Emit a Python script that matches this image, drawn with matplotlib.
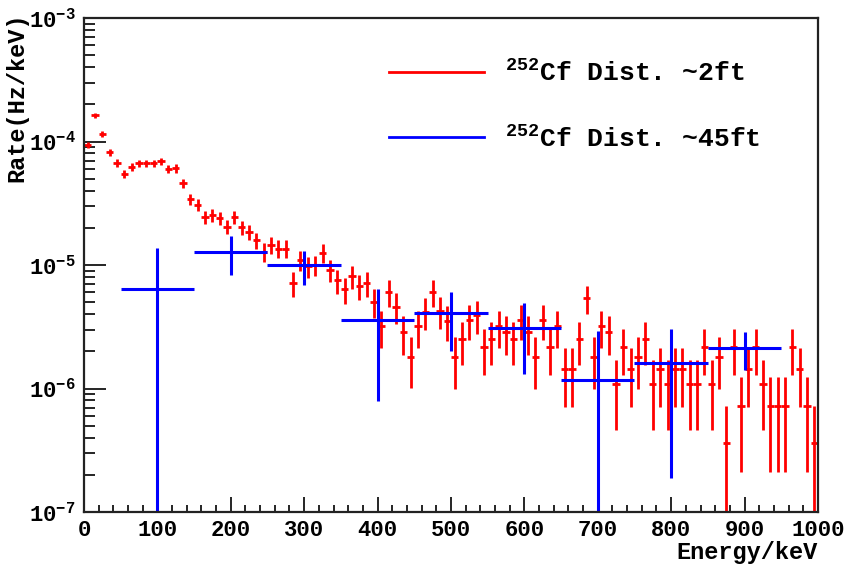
import matplotlib
matplotlib.use("Agg")
import matplotlib.pyplot as plt
from matplotlib.lines import Line2D
from matplotlib.ticker import FixedLocator, LogLocator, MultipleLocator, NullFormatter

plt.rcParams['font.family'] = ['Liberation Mono', 'DejaVu Sans']
plt.rcParams['font.weight'] = 'bold'
plt.rcParams['mathtext.fontset'] = 'custom'
plt.rcParams['mathtext.rm'] = 'Liberation Mono:bold'
plt.rcParams['mathtext.it'] = 'Liberation Mono:bold'
plt.rcParams['mathtext.bf'] = 'Liberation Mono:bold'

# ~2ft: 10 keV bins
e_near = [5 + 10 * i for i in range(100)]
rate_near = [9.4e-5, 1.64e-4, 1.16e-4, 8.2e-5, 6.7e-5, 5.46e-5, 6.2e-5, 6.65e-5, 6.65e-5, 6.65e-5,
             6.9e-5, 6.0e-5, 6.07e-5, 4.58e-5, 3.42e-5, 3.06e-5, 2.46e-5, 2.54e-5, 2.39e-5, 2.04e-5,
             2.43e-5, 2.02e-5, 1.86e-5, 1.59e-5, 1.28e-5, 1.45e-5, 1.36e-5, 1.36e-5, 7.1e-6, 1.1e-5,
             9.8e-6, 1.0e-5, 1.26e-5, 9.1e-6, 7.5e-6, 6.36e-6, 8.15e-6, 6.76e-6, 7.1e-6, 5.05e-6,
             3.2e-6, 6.08e-6, 4.6e-6, 2.88e-6, 1.81e-6, 3.2e-6, 4.19e-6, 6.08e-6, 4.26e-6, 3.54e-6,
             1.79e-6, 2.5e-6, 3.59e-6, 3.94e-6, 2.16e-6, 2.5e-6, 3.2e-6, 2.88e-6, 2.5e-6, 3.59e-6,
             2.88e-6, 1.79e-6, 3.59e-6, 2.16e-6, 3.2e-6, 1.43e-6, 1.43e-6, 2.5e-6, 5.37e-6, 1.79e-6,
             3.2e-6, 2.88e-6, 1.09e-6, 2.16e-6, 1.43e-6, 1.79e-6, 2.5e-6, 1.09e-6, 1.43e-6, 1.09e-6,
             1.43e-6, 1.43e-6, 1.09e-6, 1.09e-6, 2.16e-6, 1.09e-6, 1.79e-6, 3.6e-7, 2.16e-6, 7.2e-7,
             1.43e-6, 2.16e-6, 1.09e-6, 7.2e-7, 7.2e-7, 7.2e-7, 2.16e-6, 1.43e-6, 7.2e-7, 3.6e-7]
err_near = [5.82e-6, 7.68e-6, 6.46e-6, 5.43e-6, 4.91e-6, 4.43e-6, 4.72e-6, 4.89e-6, 4.89e-6, 4.89e-6,
            4.98e-6, 4.65e-6, 4.67e-6, 4.06e-6, 3.51e-6, 3.32e-6, 2.98e-6, 3.02e-6, 2.93e-6, 2.71e-6,
            2.96e-6, 2.70e-6, 2.59e-6, 2.39e-6, 2.15e-6, 2.28e-6, 2.21e-6, 2.21e-6, 1.60e-6, 1.99e-6,
            1.88e-6, 1.90e-6, 2.13e-6, 1.81e-6, 1.64e-6, 1.51e-6, 1.71e-6, 1.56e-6, 1.60e-6, 1.35e-6,
            1.07e-6, 1.48e-6, 1.29e-6, 1.02e-6, 8.07e-7, 1.07e-6, 1.23e-6, 1.48e-6, 1.24e-6, 1.13e-6,
            8.03e-7, 9.49e-7, 1.14e-6, 1.19e-6, 8.82e-7, 9.49e-7, 1.07e-6, 1.02e-6, 9.49e-7, 1.14e-6,
            1.02e-6, 8.03e-7, 1.14e-6, 8.82e-7, 1.07e-6, 7.17e-7, 7.17e-7, 9.49e-7, 1.39e-6, 8.03e-7,
            1.07e-6, 1.02e-6, 6.26e-7, 8.82e-7, 7.17e-7, 8.03e-7, 9.49e-7, 6.26e-7, 7.17e-7, 6.26e-7,
            7.17e-7, 7.17e-7, 6.26e-7, 6.26e-7, 8.82e-7, 6.26e-7, 8.03e-7, 3.6e-7, 8.82e-7, 5.09e-7,
            7.17e-7, 8.82e-7, 6.26e-7, 5.09e-7, 5.09e-7, 5.09e-7, 8.82e-7, 7.17e-7, 5.09e-7, 3.6e-7]

# ~45ft: 100 keV bins
e_far = [100, 200, 300, 400, 500, 600, 700, 800, 900]
rate_far = [6.36e-6, 1.28e-5, 1.0e-5, 3.59e-6, 4.06e-6, 3.1e-6, 1.17e-6, 1.62e-6, 2.14e-6]
err_far = [7.3e-6, 4.5e-6, 3.1e-6, 2.8e-6, 2.03e-6, 1.8e-6, 1.75e-6, 1.43e-6, 0.73e-6]

labels = [r'$^{252}$Cf Dist. ~2ft', r'$^{252}$Cf Dist. ~45ft']


def lower(v, e):
    # keep the lower end positive on the log axis
    return [min(ee, vv * 0.9999) for vv, ee in zip(v, e)]


fig = plt.figure(figsize=(8.48, 5.66), dpi=100)
ax = fig.add_axes([0.099, 0.0954, 0.8656, 0.8728])

ax.errorbar(e_near, rate_near, xerr=5, yerr=[lower(rate_near, err_near), err_near],
            fmt='none', ecolor='#ff0000', elinewidth=2.0, capsize=0)
ax.errorbar(e_far, rate_far, xerr=50, yerr=[lower(rate_far, err_far), err_far],
            fmt='none', ecolor='#0000ff', elinewidth=2.2, capsize=0)

ax.set_yscale('log')
ax.set_xlim(0, 1000)
ax.set_ylim(1e-7, 1e-3)

ax.xaxis.set_major_locator(MultipleLocator(100))
ax.xaxis.set_minor_locator(MultipleLocator(20))
ax.yaxis.set_major_locator(FixedLocator([1e-7, 1e-6, 1e-5, 1e-4, 1e-3]))
ax.set_yticklabels([r'$10^{-7}$', r'$10^{-6}$', r'$10^{-5}$', r'$10^{-4}$', r'$10^{-3}$'])
ax.yaxis.set_minor_locator(LogLocator(base=10, subs=range(2, 10)))
ax.yaxis.set_minor_formatter(NullFormatter())

ax.tick_params(axis='x', which='major', direction='in', length=10.7, width=1.2, labelsize=16, pad=6)
ax.tick_params(axis='x', which='minor', direction='in', length=5.3, width=1.2)
ax.tick_params(axis='y', which='major', direction='in', length=15.8, width=1.2, labelsize=16, pad=6)
ax.tick_params(axis='y', which='minor', direction='in', length=7.9, width=1.2)
for s in ax.spines.values():
    s.set_linewidth(1.6)
    s.set_color('#222222')

ax.set_xlabel('Energy/keV', fontsize=17, fontweight='bold', ha='right')
ax.xaxis.set_label_coords(1.0, -0.058)
ax.xaxis.label.set_va('top')
ax.set_ylabel('Rate(Hz/keV)', fontsize=17, fontweight='bold', ha='right')
ax.yaxis.set_label_coords(-0.076, 1.012)

handles = [Line2D([], [], color='#ff0000', lw=2), Line2D([], [], color='#0000ff', lw=2)]
ax.legend(handles, labels, loc='upper left', bbox_to_anchor=(0.383, 0.963), frameon=False,
          handlelength=3.6, handletextpad=0.8, labelspacing=1.5,
          prop={'family': 'Liberation Mono', 'weight': 'bold', 'size': 19})

fig.savefig('out.png', dpi=100)
